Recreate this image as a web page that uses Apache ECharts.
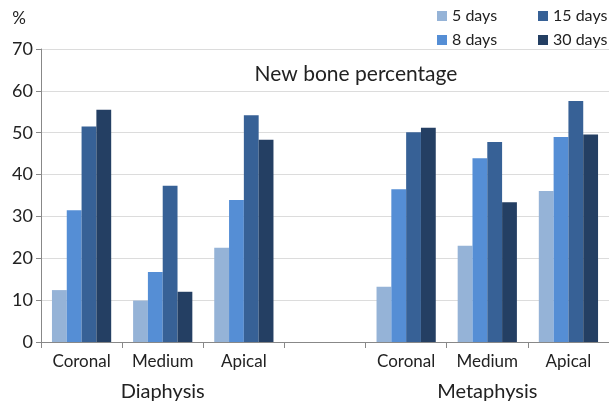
<!DOCTYPE html>
<html>
<head>
<meta charset="utf-8">
<script src="https://cdn.jsdelivr.net/npm/echarts@6/dist/echarts.min.js"></script>
<style>
  html, body { margin: 0; padding: 0; background: #fff; }
  #chart { width: 609px; height: 405px; }
</style>
</head>
<body>
<div id="chart"></div>
<script>
// categories (empty slot separates the two regions)
var categories = ['Coronal', 'Medium', 'Apical', '', 'Coronal', 'Medium', 'Apical'];
var regions = ['', 'Diaphysis', '', '', '', 'Metaphysis', ''];
var seriesNames = ['5 days', '8 days', '15 days', '30 days'];

// new bone percentage per time point
var days5 = [12.4, 9.9, 22.5, null, 13.2, 23.0, 36.1];
var days8 = [31.5, 16.7, 33.9, null, 36.5, 43.9, 49.0];
var days15 = [51.5, 37.3, 54.2, null, 50.1, 47.8, 57.6];
var days30 = [55.5, 12.0, 48.3, null, 51.2, 33.4, 49.6];

var colors = ['#95b3d7', '#558ed5', '#376196', '#243f63'];
var font = 'Lato, "Open Sans", sans-serif';

var chart = echarts.init(document.getElementById('chart'));

var values = [days5, days8, days15, days30];
var series = [];
for (var i = 0; i < seriesNames.length; i++) {
    series.push({
        name: seriesNames[i],
        type: 'bar',
        barGap: '0%',
        barCategoryGap: '27%',
        itemStyle: { color: colors[i] },
        data: values[i]
    });
}

var option = {
    animation: false,
    textStyle: { fontFamily: font },
    title: {
        text: 'New bone percentage',
        left: 351,
        top: 59,
        textAlign: 'center',
        textStyle: { fontFamily: font, fontSize: 21, fontWeight: 'normal', color: '#222' }
    },
    legend: [{
        data: ['5 days', '8 days'],
        orient: 'vertical',
        left: 432,
        top: 3,
        itemWidth: 10,
        itemHeight: 10,
        itemGap: 8,
        icon: 'rect',
        textStyle: { fontFamily: font, fontSize: 16, color: '#222' }
    }, {
        data: ['15 days', '30 days'],
        orient: 'vertical',
        left: 533,
        top: 3,
        itemWidth: 10,
        itemHeight: 10,
        itemGap: 8,
        icon: 'rect',
        textStyle: { fontFamily: font, fontSize: 16, color: '#222' }
    }],
    grid: { left: 41, right: 0, top: 49, bottom: 63 },
    xAxis: [{
        type: 'category',
        data: categories,
        axisLine: { lineStyle: { color: '#888' } },
        axisTick: { show: true, length: 6, lineStyle: { color: '#888' } },
        axisLabel: { interval: 0, margin: 11, fontSize: 17, color: '#222', fontFamily: font }
    }, {
        type: 'category',
        data: regions,
        position: 'bottom',
        offset: 30,
        axisLine: { show: false },
        axisTick: { show: false },
        axisLabel: { interval: 0, margin: 10, fontSize: 20, color: '#222', fontFamily: font }
    }],
    yAxis: {
        type: 'value',
        min: 0,
        max: 70,
        interval: 10,
        name: '%',
        nameLocation: 'end',
        nameGap: 22,
        nameTextStyle: { fontSize: 17, color: '#222', align: 'right', padding: [0, 15, 0, 0], fontFamily: font },
        axisLine: { show: true, lineStyle: { color: '#888' } },
        axisTick: { show: true, length: 5, lineStyle: { color: '#888' } },
        axisLabel: { fontSize: 18, color: '#222', margin: 8, fontFamily: font },
        splitLine: { lineStyle: { color: '#dcdcdc' } }
    },
    series: series
};

chart.setOption(option);
</script>
</body>
</html>
